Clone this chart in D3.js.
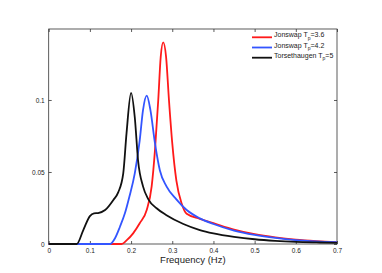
<!DOCTYPE html>
<html>
<head>
<meta charset="utf-8">
<script src="https://cdn.jsdelivr.net/npm/d3@7"></script>
<style>
  body { margin: 0; background: #fff; }
  text { font-family: "Liberation Sans", Arial, sans-serif; fill: #222; }
</style>
</head>
<body>
<script>
// values: frequency (Hz) and spectral density
var redF  = [0, 0.177, 0.189, 0.205, 0.221, 0.238, 0.25, 0.258, 0.266, 0.272, 0.278, 0.285, 0.292, 0.30, 0.31, 0.323, 0.335, 0.367, 0.40, 0.45, 0.50, 0.55, 0.60, 0.65, 0.70];
var redS  = [0, 0, 0.0025, 0.0074, 0.0144, 0.0236, 0.040, 0.065, 0.100, 0.130, 0.140, 0.130, 0.100, 0.070, 0.044, 0.028, 0.021, 0.0175, 0.0145, 0.0100, 0.0068, 0.0046, 0.0030, 0.0020, 0.0013];

var blueF = [0, 0.149, 0.161, 0.173, 0.185, 0.196, 0.209, 0.221, 0.229, 0.238, 0.247, 0.258, 0.27, 0.286, 0.31, 0.335, 0.367, 0.40, 0.45, 0.50, 0.55, 0.60, 0.65, 0.70];
var blueS = [0, 0, 0.004, 0.012, 0.0213, 0.033, 0.049, 0.072, 0.093, 0.103, 0.093, 0.070, 0.051, 0.040, 0.031, 0.0236, 0.0178, 0.0139, 0.0093, 0.0063, 0.0042, 0.0027, 0.0018, 0.0012];

var blackF = [0, 0.068, 0.084, 0.10, 0.11, 0.12, 0.137, 0.157, 0.169, 0.181, 0.189, 0.20, 0.209, 0.217, 0.229, 0.242, 0.262, 0.286, 0.327, 0.367, 0.40, 0.45, 0.50, 0.55, 0.60, 0.65, 0.70];
var blackS = [0, 0, 0.0097, 0.0194, 0.0213, 0.0215, 0.0236, 0.0306, 0.036, 0.049, 0.077, 0.105, 0.088, 0.058, 0.040, 0.031, 0.0248, 0.020, 0.0139, 0.0097, 0.0074, 0.0050, 0.0033, 0.0022, 0.0015, 0.0011, 0.0008];

var seriesNames = ["Jonswap T", "Jonswap T", "Torsethaugen T"];
var seriesTail = ["=3.6", "=4.2", "=5"];
var colors = ["#ff1a1a", "#3355ff", "#111111"];

var xTicks = [0, 0.1, 0.2, 0.3, 0.4, 0.5, 0.6, 0.7];
var yTicks = [0, 0.05, 0.1];

var width = 382, height = 273;
var mLeft = 48.7, mRight = 337, mTop = 29, mBottom = 244;

var svg = d3.select('body').append('svg')
  .attr('width', width)
  .attr('height', height);

var x = d3.scaleLinear().domain([0, 0.7]).range([mLeft, mRight]);
var y = d3.scaleLinear().domain([0, 0.1493]).range([mBottom, mTop]);

// frame
svg.append('rect')
  .attr('x', mLeft).attr('y', mTop)
  .attr('width', mRight - mLeft).attr('height', mBottom - mTop)
  .attr('fill', 'none').attr('stroke', '#333').attr('stroke-width', 0.8);

var fmt = function(d){ return d === 0 ? '0' : String(d); };

// axes with inward ticks on all four sides
var xAxis = svg.append('g').attr('transform', 'translate(0,' + mBottom + ')')
  .call(d3.axisBottom(x).tickValues(xTicks).tickFormat(fmt).tickSizeInner(-3).tickSizeOuter(0).tickPadding(4));
var xTop = svg.append('g').attr('transform', 'translate(0,' + mTop + ')')
  .call(d3.axisTop(x).tickValues(xTicks).tickFormat('').tickSizeInner(-3).tickSizeOuter(0));
var yAxis = svg.append('g').attr('transform', 'translate(' + mLeft + ',0)')
  .call(d3.axisLeft(y).tickValues(yTicks).tickFormat(fmt).tickSizeInner(-3).tickSizeOuter(0).tickPadding(4));
var yRight = svg.append('g').attr('transform', 'translate(' + mRight + ',0)')
  .call(d3.axisRight(y).tickValues(yTicks).tickFormat('').tickSizeInner(-3).tickSizeOuter(0));

[xAxis, xTop, yAxis, yRight].forEach(function(g){
  g.select('.domain').remove();
  g.selectAll('line').attr('stroke', '#333').attr('stroke-width', 0.8);
  g.selectAll('text').style('font-size', '6.5px').attr('fill', '#333');
});

svg.append('text')
  .attr('x', (mLeft + mRight) / 2).attr('y', 263)
  .attr('text-anchor', 'middle')
  .style('font-size', '9.5px')
  .text('Frequency (Hz)');

var line = d3.line()
  .x(function(d){ return x(d[0]); })
  .y(function(d){ return y(d[1]); })
  .curve(d3.curveMonotoneX);

var series = [
  d3.zip(redF, redS),
  d3.zip(blueF, blueS),
  d3.zip(blackF, blackS)
];

svg.selectAll('path.curve')
  .data(series)
  .enter()
  .append('path')
  .attr('class', 'curve')
  .attr('d', line)
  .attr('fill', 'none')
  .attr('stroke', function(d, i){ return colors[i]; })
  .attr('stroke-width', 1.8)
  .attr('stroke-linejoin', 'round');

// legend
var legend = svg.selectAll('g.leg')
  .data(seriesNames)
  .enter()
  .append('g')
  .attr('class', 'leg')
  .attr('transform', function(d, i){ return 'translate(252,' + (37.3 + i * 10.2) + ')'; });

legend.append('line')
  .attr('x1', 0).attr('x2', 20)
  .attr('stroke', function(d, i){ return colors[i]; })
  .attr('stroke-width', 1.8);

var lt = legend.append('text')
  .attr('x', 22).attr('y', 0)
  .style('font-size', '7px');
lt.append('tspan').text(function(d){ return d; });
lt.append('tspan').attr('dy', 2.5).style('font-size', '5px').text('p');
lt.append('tspan').attr('dy', -2.5).text(function(d, i){ return seriesTail[i]; });
</script>
</body>
</html>
